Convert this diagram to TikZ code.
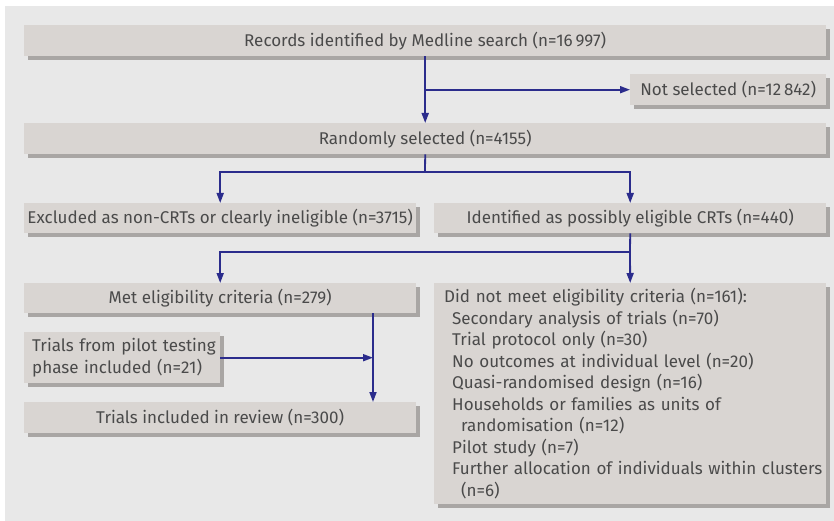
\documentclass[tikz,border=0pt]{standalone}
\usepackage{fontspec}
\setmainfont{Fira Sans}
\usetikzlibrary{arrows.meta,shadows,calc}
\definecolor{bgc}{HTML}{E8E8E8}
\definecolor{boxc}{HTML}{D9D5D2}
\definecolor{shc}{HTML}{A9A6A4}
\definecolor{txc}{HTML}{4A4A4A}
\definecolor{arc}{HTML}{2B2C8C}
\begin{document}
\begin{tikzpicture}[x=1pt,y=1pt,
  box/.style={fill=boxc, draw=none, inner sep=0pt, anchor=north west,
    text=txc, font=\fontsize{17}{21.5}\selectfont,
    drop shadow={shadow xshift=3.5pt, shadow yshift=-3.5pt, fill=shc, opacity=1}},
  arr/.style={draw=arc, line width=1.8pt, -{Triangle[length=10pt,width=7pt]}},
  ln/.style={draw=arc, line width=1.8pt}]
\useasboundingbox (0,0) rectangle (834,-521);
\fill[bgc] (5,-6) rectangle (834,-521);
\node[box, minimum width=802pt, minimum height=31pt] (b1) at (24,-25) {Records identified by Medline search (n=16\,997)};
\node[box, minimum width=196pt, minimum height=31pt] (ns) at (630,-74) {Not selected (n=12\,842)};
\node[box, minimum width=802pt, minimum height=31pt] (b2) at (24,-123) {Randomly selected (n=4155)};
\node[box, minimum width=392pt, minimum height=30pt] (exc) at (24,-203) {Excluded as non-CRTs or clearly ineligible (n=3715)};
\node[box, minimum width=392pt, minimum height=30pt] (ide) at (434,-203) {Identified as possibly eligible CRTs (n=440)};
\node[box, minimum width=392pt, minimum height=30pt] (met) at (24,-283) {Met eligibility criteria (n=279)};
\node[box, minimum width=392pt, minimum height=221pt, text width=392pt, align=left] (dnm) at (434,-283) {\hspace*{10pt}Did not meet eligibility criteria (n=161):\\
\hspace*{18pt}Secondary analysis of trials (n=70)\\
\hspace*{18pt}Trial protocol only (n=30)\\
\hspace*{18pt}No outcomes at individual level (n=20)\\
\hspace*{18pt}Quasi-randomised design (n=16)\\
\hspace*{18pt}Households or families as units of\\
\hspace*{27pt}randomisation (n=12)\\
\hspace*{18pt}Pilot study (n=7)\\
\hspace*{18pt}Further allocation of individuals within clusters\\
\hspace*{27pt}(n=6)};
\node[box, minimum width=196pt, minimum height=51pt, text width=196pt, align=left] (pil) at (24,-332) {\hspace*{8pt}Trials from pilot testing\\\hspace*{8pt}phase included (n=21)};
\node[box, minimum width=392pt, minimum height=31pt] (inc) at (24,-402) {Trials included in review (n=300)};
\coordinate (v) at (373,0);
\coordinate (j1) at (425,-172);
\coordinate (j2) at (630,-252);
\draw[arr] (b1.south) -- (b2.north);
\draw[arr] (b1.south |- ns.west) -- (ns.west);
\draw[ln] (b2.south) -- (j1);
\draw[arr] (j1) -| (exc.north);
\draw[arr] (j1) -| (ide.north);
\draw[ln] (ide.south) -- (j2);
\draw[arr] (j2) -| (met.north);
\draw[arr] (j2) -- (dnm.north);
\draw[arr] (v |- met.south) -- (v |- inc.north);
\draw[arr] (pil.east) -- (v |- pil.east);
\end{tikzpicture}
\end{document}
